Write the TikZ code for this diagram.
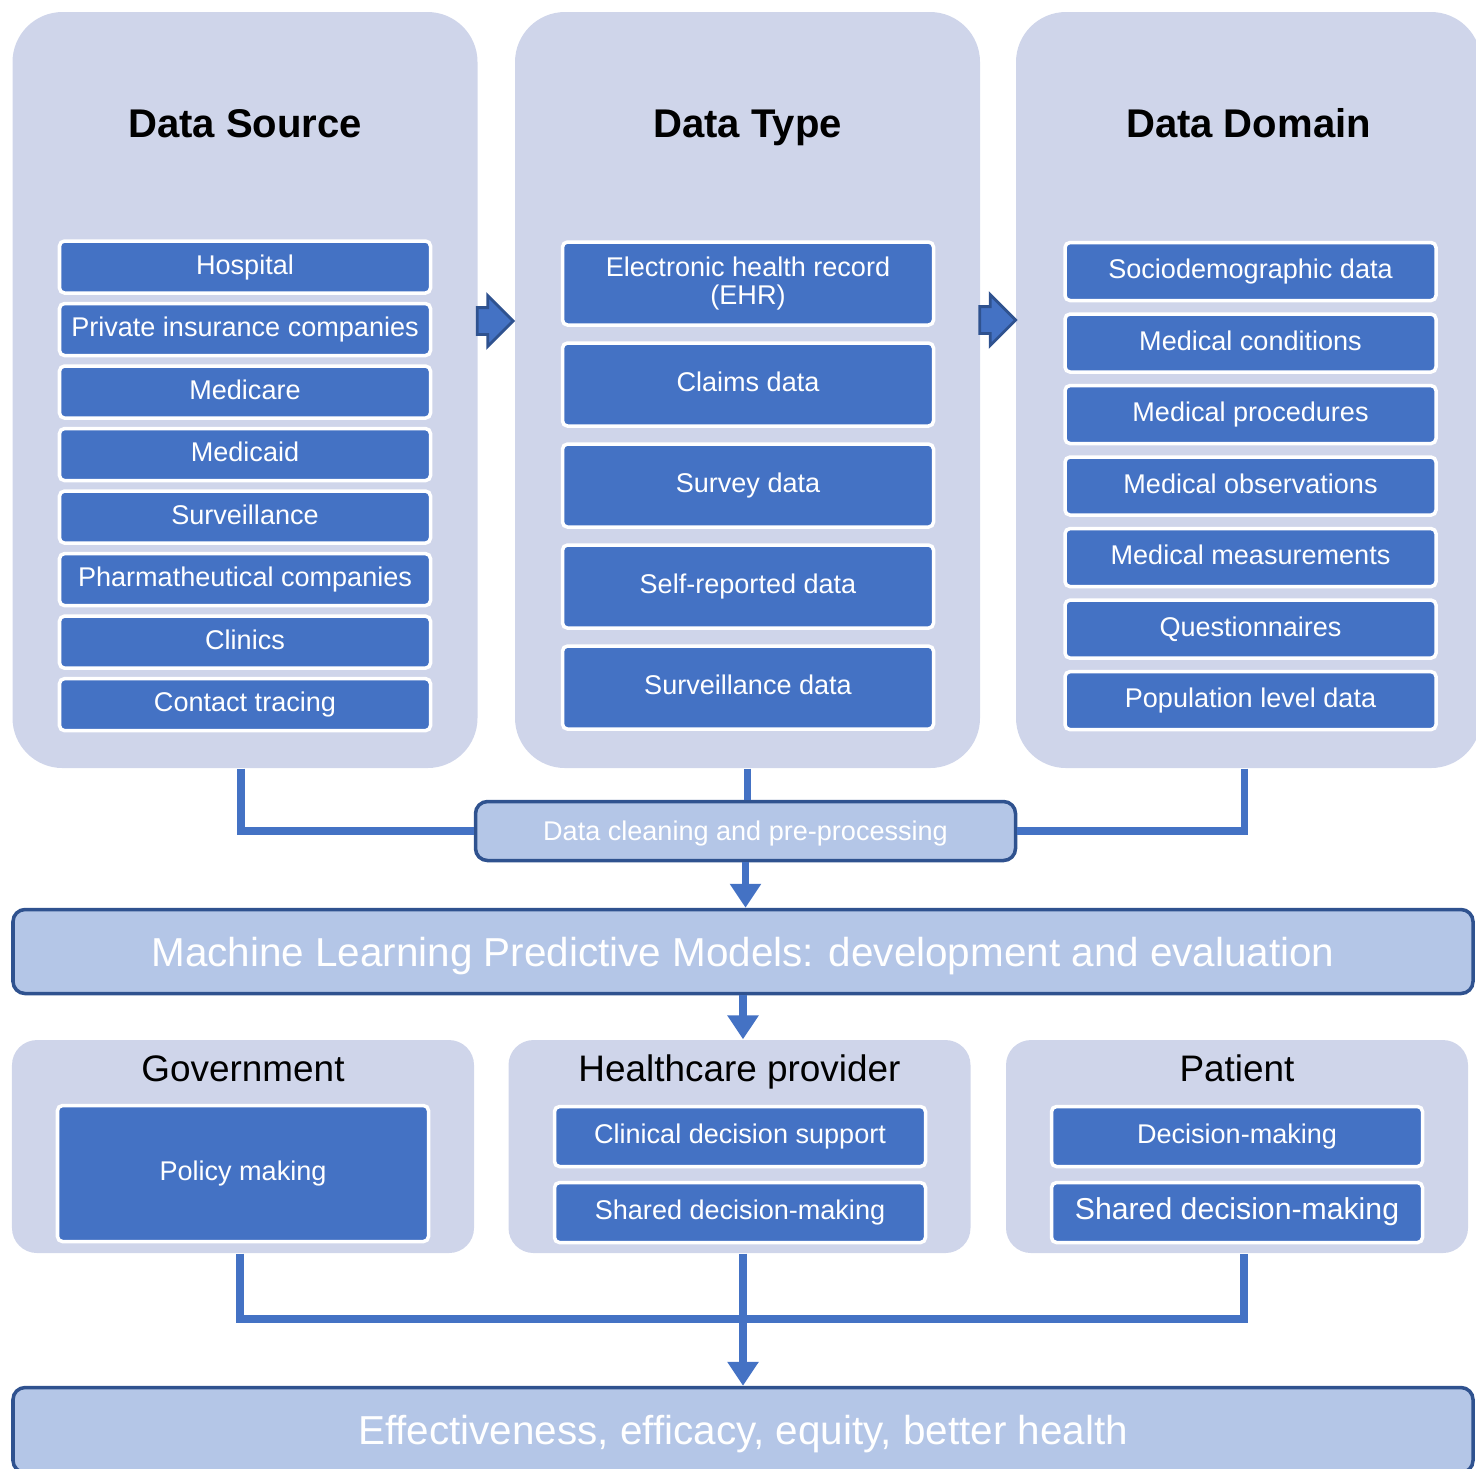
\documentclass[tikz,border=0pt]{standalone}
\usepackage{fontspec}
\setmainfont{Liberation Sans}
\usepackage{tikz}
\usetikzlibrary{shapes.arrows, arrows.meta, positioning, calc}
\definecolor{panelgray}{HTML}{CFD5EA}
\definecolor{boxblue}{HTML}{4472C4}
\definecolor{lightblue}{HTML}{B4C6E7}
\definecolor{borderblue}{HTML}{2F528F}
\tikzstyle{panel} = [rectangle, rounded corners=0.5cm, fill=panelgray, minimum width=4.65cm, minimum height=7.56cm]
\tikzstyle{smallpanel} = [rectangle, rounded corners=0.25cm, fill=panelgray, minimum width=4.62cm, minimum height=2.13cm]
\tikzstyle{item} = [rectangle, rounded corners=0.05cm, draw=white, line width=1pt, fill=boxblue, text=white, minimum width=3.71cm, font=\fontsize{7.7}{8}\selectfont, text height=5.6pt, text depth=1.6pt, align=center]
\tikzstyle{band} = [rectangle, rounded corners=0.12cm, draw=borderblue, line width=1pt, fill=lightblue, text=white, text depth=0pt]
\tikzstyle{blockarrow} = [single arrow, draw=borderblue, fill=boxblue, line width=0.8pt, minimum height=0.36cm, minimum width=0.50cm, text height=0.24cm, text depth=0pt, single arrow head extend=0.12cm, inner sep=0pt]
\tikzstyle{link} = [line width=2.2pt, draw=boxblue]
\tikzstyle{arrow} = [link, -{Triangle[width=0.3cm,length=0.24cm]}]

\begin{document}
\begin{tikzpicture}
    \useasboundingbox (0,0) rectangle (14.76,-14.68);

    % Data Source panel
    \node (src) [panel] at (2.45,-3.90) {};
    \node at (src.north) [anchor=base, yshift=-1.26cm, font=\fontsize{11.4}{13}\selectfont\bfseries] {Data Source};
    \node (hosp) [item, minimum height=0.52cm] at (2.45,-2.67) {Hospital};
    \node (priv) [item, minimum height=0.52cm, below=0.07cm of hosp] {Private insurance companies};
    \node (mcare) [item, minimum height=0.52cm, below=0.07cm of priv] {Medicare};
    \node (mcaid) [item, minimum height=0.52cm, below=0.07cm of mcare] {Medicaid};
    \node (surv) [item, minimum height=0.52cm, below=0.07cm of mcaid] {Surveillance};
    \node (pharma) [item, minimum height=0.52cm, below=0.07cm of surv] {Pharmatheutical companies};
    \node (clin) [item, minimum height=0.52cm, below=0.07cm of pharma] {Clinics};
    \node (trace) [item, minimum height=0.52cm, below=0.07cm of clin] {Contact tracing};

    % Data Type panel
    \node (typ) [panel] at (7.475,-3.90) {};
    \node at (typ.north) [anchor=base, yshift=-1.26cm, font=\fontsize{11.4}{13}\selectfont\bfseries] {Data Type};
    \node (ehr) [item, minimum height=0.83cm, text height=, text depth=] at (7.48,-2.835) {Electronic health record\\(EHR)};
    \node (claims) [item, minimum height=0.83cm, below=0.145cm of ehr] {Claims data};
    \node (survey) [item, minimum height=0.83cm, below=0.145cm of claims] {Survey data};
    \node (self) [item, minimum height=0.83cm, below=0.145cm of survey] {Self-reported data};
    \node (survd) [item, minimum height=0.83cm, below=0.145cm of self] {Surveillance data};

    % Data Domain panel
    \node (dom) [panel] at (12.485,-3.90) {};
    \node at (dom.north) [anchor=base, yshift=-1.26cm, font=\fontsize{11.4}{13}\selectfont\bfseries] {Data Domain};
    \node (socio) [item, minimum height=0.58cm] at (12.505,-2.715) {Sociodemographic data};
    \node (cond) [item, minimum height=0.58cm, below=0.1cm of socio] {Medical conditions};
    \node (proc) [item, minimum height=0.58cm, below=0.1cm of cond] {Medical procedures};
    \node (obs) [item, minimum height=0.58cm, below=0.1cm of proc] {Medical observations};
    \node (meas) [item, minimum height=0.58cm, below=0.1cm of obs] {Medical measurements};
    \node (quest) [item, minimum height=0.58cm, below=0.1cm of meas] {Questionnaires};
    \node (pop) [item, minimum height=0.58cm, below=0.1cm of quest] {Population level data};

    % Arrows between panels
    \node (arr1) [blockarrow] at (4.885,-3.21) {};
    \node (arr2) [blockarrow] at (9.91,-3.20) {};

    % Cleaning and models
    \node (clean) [band, minimum width=5.40cm, minimum height=0.59cm, font=\fontsize{7.7}{9}\selectfont] at (7.455,-8.31) {Data cleaning and pre-processing};
    \node (ml) [band, minimum width=14.60cm, minimum height=0.84cm, font=\fontsize{11.5}{13}\selectfont] at (7.43,-9.515) {Machine Learning Predictive Models: development and evaluation};

    % Users
    \node (gov) [smallpanel] at (2.43,-11.465) {};
    \node at (gov.north) [anchor=base, yshift=-0.42cm, font=\fontsize{10.5}{12}\selectfont] {Government};
    \node (policy) [item, minimum height=1.36cm] at (2.43,-11.735) {Policy making};

    \node (hc) [smallpanel] at (7.395,-11.465) {};
    \node at (hc.north) [anchor=base, yshift=-0.42cm, font=\fontsize{10.5}{12}\selectfont] {Healthcare provider};
    \node (cds) [item, minimum height=0.60cm] at (7.40,-11.365) {Clinical decision support};
    \node (sdm1) [item, minimum height=0.60cm, below=0.125cm of cds] {Shared decision-making};

    \node (pat) [smallpanel] at (12.37,-11.465) {};
    \node at (pat.north) [anchor=base, yshift=-0.42cm, font=\fontsize{10.5}{12}\selectfont] {Patient};
    \node (dm) [item, minimum height=0.60cm] at (12.37,-11.365) {Decision-making};
    \node (sdm2) [item, minimum height=0.60cm, below=0.125cm of dm, font=\fontsize{8.6}{10}\selectfont] {Shared decision-making};

    % Outcome
    \node (out) [band, minimum width=14.60cm, minimum height=0.85cm, font=\fontsize{11.5}{13}\selectfont] at (7.43,-14.30) {Effectiveness, efficacy, equity, better health};

    % Connections
    \draw [link] ($(src.south)+(-0.04,0)$) |- (clean.west);
    \draw [link] ($(dom.south)+(-0.04,0)$) |- (clean.east);
    \draw [link] (typ.south) -- (typ.south |- clean.north);
    \draw [arrow] (clean.south) -- (ml.north -| clean.south);
    \draw [arrow] (ml.south) -- (ml.south |- hc.north);
    \draw [link] ($(gov.south)+(-0.03,0)$) -- ++(0,-0.65) -| ($(pat.south)+(0.07,0)$);
    \draw [arrow] (hc.south -| ml.south) -- (out.north -| ml.south);
\end{tikzpicture}
\end{document}
